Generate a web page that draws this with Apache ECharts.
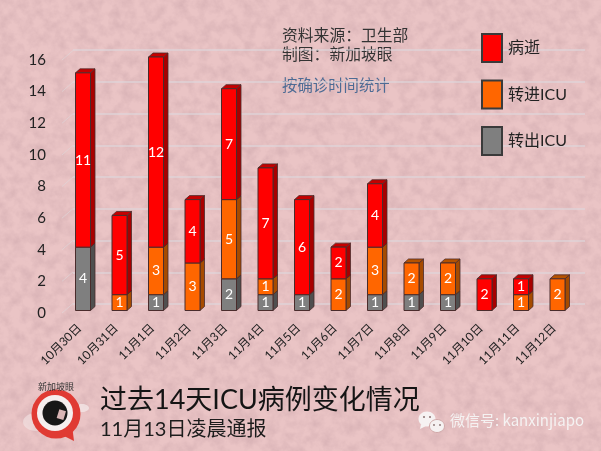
<!DOCTYPE html>
<html>
<head>
<meta charset="utf-8">
<script src="https://cdn.jsdelivr.net/npm/echarts@6/dist/echarts.min.js"></script>
<style>
html,body{margin:0;padding:0;width:601px;height:451px;overflow:hidden;background:#e3bcbe;}
#bg{position:absolute;left:0;top:0;width:601px;height:451px;}
#c{position:absolute;left:0;top:0;width:601px;height:451px;}
</style>
</head>
<body>
<svg id="bg" xmlns="http://www.w3.org/2000/svg" width="601" height="451">
  <filter id="n" x="0" y="0" width="100%" height="100%">
    <feTurbulence type="fractalNoise" baseFrequency="0.09" numOctaves="4" seed="7"/>
    <feColorMatrix type="matrix" values="0 0 0 0 0.68  0 0 0 0 0.44  0 0 0 0 0.46  1.6 0 0 0 -0.55"/>
  </filter>
  <rect width="601" height="451" fill="#eac4c5"/>
  <rect width="601" height="451" filter="url(#n)"/>
</svg>
<div id="c"></div>
<script>
var categories = ['10月30日','10月31日','11月1日','11月2日','11月3日','11月4日','11月5日','11月6日','11月7日','11月8日','11月9日','11月10日','11月11日','11月12日'];
var transferredOut = [4,0,1,0,2,1,1,0,1,1,1,0,0,0];
var transferredIn  = [0,1,3,3,5,1,0,2,3,2,2,0,1,2];
var deaths         = [11,5,12,4,7,7,6,2,4,0,0,2,1,0];
var axisTicks = [0,2,4,6,8,10,12,14,16];
var seriesNames = ['转出ICU','转进ICU','病逝'];

var FONT = 'Lato, "Noto Sans CJK SC", sans-serif';
var DX = 4.5, DY = 4, BAR_W = 15;

function stackData(values, lowers){
  return values.map(function(v,i){
    var base = 0;
    lowers.forEach(function(l){ base += l[i]; });
    return [i, base, v];
  });
}
function barRenderer(front, side, top){
  return function(params, api){
    var v = api.value(2);
    if(!v) return null;
    var i = api.value(0), b = api.value(1);
    var p0 = api.coord([i, b]), p1 = api.coord([i, b + v]);
    var l = p0[0] - BAR_W/2, r = p0[0] + BAR_W/2, y0 = p0[1], y1 = p1[1];
    var edge = '#4a2c2c';
    return {type:'group', children:[
      {type:'polygon', shape:{points:[[r,y0],[r+DX,y0-DY],[r+DX,y1-DY],[r,y1]]}, style:{fill:side, stroke:edge, lineWidth:0.8}},
      {type:'polygon', shape:{points:[[l,y1],[r,y1],[r+DX,y1-DY],[l+DX,y1-DY]]}, style:{fill:top, stroke:edge, lineWidth:0.8}},
      {type:'rect', shape:{x:l, y:y1, width:BAR_W, height:y0-y1}, style:{fill:front, stroke:edge, lineWidth:1}},
      {type:'text', style:{text:String(v), x:p0[0], y:(y0+y1)/2, fill:'#fff', font:'14px '+FONT, align:'center', verticalAlign:'middle'}}
    ]};
  };
}
function barSeries(name, values, lowers, c){
  return {
    name:name, type:'custom', xAxisIndex:0, yAxisIndex:0, z:5,
    coordinateSystem:'cartesian2d',
    encode:{x:0, y:1},
    itemStyle:{color:c[0], borderColor:'#3a3a3a', borderWidth:1},
    renderItem:barRenderer(c[0], c[1], c[2]),
    data:stackData(values, lowers)
  };
}

var chart = echarts.init(document.getElementById('c'), null, {renderer:'canvas', width:601, height:451});
chart.setOption({
  backgroundColor:'transparent',
  animation:false,
  title:[
    {text:'过去14天ICU病例变化情况', left:95, top:382, textStyle:{fontSize:27, fontWeight:'normal', color:'#141414', fontFamily:FONT}},
    {text:'11月13日凌晨通报', left:95, top:415, textStyle:{fontSize:20, fontWeight:'normal', color:'#1c1c1c', fontFamily:FONT}}
  ],
  legend:{
    orient:'vertical', left:481, top:33, padding:0, itemWidth:20, itemHeight:28, itemGap:16.5, icon:'rect',
    data:['病逝','转进ICU','转出ICU'],
    textStyle:{fontSize:16, color:'#222', fontFamily:FONT, padding:[0,0,0,1]}
  },
  grid:[
    {left:64.75, width:511, top:57, height:253.5},
    {left:62, width:11, top:60, height:253},
    {left:73, width:512, top:50, height:254}
  ],
  xAxis:[
    {gridIndex:0, type:'category', data:categories, boundaryGap:true,
      axisLine:{show:false}, axisTick:{show:false}, splitLine:{show:false},
      axisLabel:{interval:0, rotate:45, margin:12, padding:[0,5,0,0], fontSize:12, color:'#222', fontFamily:FONT}},
    {gridIndex:1, type:'value', min:0, max:1, show:false},
    {gridIndex:2, type:'value', min:0, max:1, show:false}
  ],
  yAxis:[
    {gridIndex:0, type:'value', min:0, max:16, interval:2, show:false},
    {gridIndex:1, type:'value', min:0, max:16, interval:2,
      axisLine:{show:false}, axisTick:{show:false}, splitLine:{show:false},
      axisLabel:{margin:16, fontSize:15, color:'#222', fontFamily:FONT}},
    {gridIndex:2, type:'value', min:0, max:16, interval:2,
      axisLine:{show:false}, axisTick:{show:false}, axisLabel:{show:false},
      splitLine:{show:true, lineStyle:{color:'rgba(222,216,220,0.8)', width:1.5}}}
  ],
  series:[
    {type:'custom', xAxisIndex:1, yAxisIndex:1, z:1, silent:true,
      encode:{x:0, y:1},
      renderItem:function(params, api){
        var p = api.coord([0, api.value(1)]);
        var q = api.coord([1, api.value(1)]);
        return {type:'line', shape:{x1:p[0], y1:p[1], x2:q[0], y2:p[1]-9.5},
          style:{stroke:'rgba(222,216,220,0.6)', lineWidth:1}};
      },
      data:axisTicks.map(function(t){ return [0, t]; })
    },
    barSeries(seriesNames[0], transferredOut, [], ['#7f7f7f','#4f4f4f','#5f5f5f']),
    barSeries(seriesNames[1], transferredIn, [transferredOut], ['#ff6600','#a64b00','#b55200']),
    barSeries(seriesNames[2], deaths, [transferredOut, transferredIn], ['#ff0000','#a80000','#c40000'])
  ],
  graphic:[
    {type:'text', left:282, top:28, style:{text:'资料来源：卫生部', fill:'#333', font:'15.8px '+FONT}},
    {type:'text', left:282, top:47, style:{text:'制图：新加坡眼', fill:'#333', font:'15.8px '+FONT}},
    {type:'text', left:282, top:78, style:{text:'按确诊时间统计', fill:'#4d6b94', font:'15.4px '+FONT}},
    // logo
    {type:'ellipse', shape:{cx:36, cy:422, rx:13, ry:9}, style:{fill:'rgba(245,235,235,0.5)'}},
    {type:'ellipse', shape:{cx:82, cy:408, rx:7, ry:4}, style:{fill:'rgba(245,235,235,0.7)'}},
    {type:'polygon', shape:{points:[[58,433],[74,441],[72,425]]}, style:{fill:'#e03a33'}},
    {type:'circle', shape:{cx:56, cy:414, r:24.5}, style:{fill:'#e03a33'}},
    {type:'circle', shape:{cx:55, cy:413, r:18}, style:{fill:'#f5eeee'}},
    {type:'circle', shape:{cx:55, cy:413, r:12.5}, style:{fill:'#171717'}},
    {type:'rect', shape:{x:58, y:410, width:7, height:9}, rotation:-0.3, originX:61, originY:414, style:{fill:'#d9b5b5'}},
    {type:'text', left:38, top:383, style:{text:'新加坡眼', fill:'#333', font:'9px '+FONT}},
    // wechat
    {type:'ellipse', shape:{cx:427, cy:419, rx:8.5, ry:7.5}, style:{fill:'#f6f2f2'}},
    {type:'ellipse', shape:{cx:437, cy:426, rx:7.5, ry:6.5}, style:{fill:'#f6f2f2', stroke:'#d0a8a8', lineWidth:1}},
    {type:'polygon', shape:{points:[[421,424],[420,429],[426,426]]}, style:{fill:'#f6f2f2'}},
    {type:'circle', shape:{cx:424, cy:417, r:1}, style:{fill:'#8a7070'}},
    {type:'circle', shape:{cx:430, cy:417, r:1}, style:{fill:'#8a7070'}},
    {type:'circle', shape:{cx:434, cy:425, r:0.9}, style:{fill:'#8a7070'}},
    {type:'circle', shape:{cx:440, cy:425, r:0.9}, style:{fill:'#8a7070'}},
    {type:'text', left:450, top:413, style:{text:'微信号: kanxinjiapo', fill:'#f5f2f2', font:'15px "Noto Sans CJK SC", sans-serif',
      shadowColor:'rgba(80,60,60,0.6)', shadowBlur:2, shadowOffsetX:0.5, shadowOffsetY:0.5}}
  ]
});
</script>
</body>
</html>
